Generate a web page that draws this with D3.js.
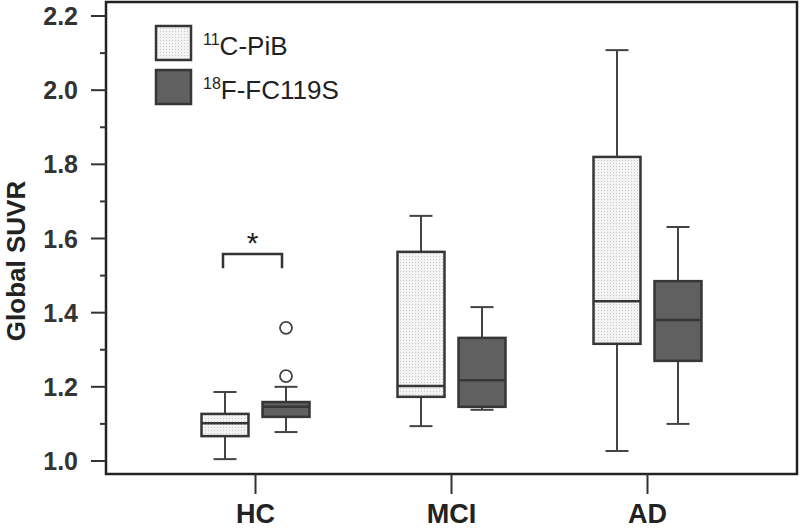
<!DOCTYPE html>
<html>
<head>
<meta charset="utf-8">
<script src="https://cdn.jsdelivr.net/npm/d3@7"></script>
<style>
  html, body { margin: 0; padding: 0; background: #fff; }
  svg { display: block; font-family: "Liberation Sans", Arial, Helvetica, sans-serif; }
</style>
</head>
<body>
<svg id="chart" width="800" height="529"></svg>
<script>
// ---- data ----
const categories = ["HC", "MCI", "AD"];
const seriesNames = ["11C-PiB", "18F-FC119S"];
const seriesSup = ["11", "18"];
const seriesMain = ["C-PiB", "F-FC119S"];

// 11C-PiB box statistics per category
const pibLow    = [1.005, 1.094, 1.027];
const pibQ1     = [1.067, 1.173, 1.316];
const pibMedian = [1.102, 1.202, 1.431];
const pibQ3     = [1.127, 1.564, 1.820];
const pibHigh   = [1.186, 1.661, 2.108];

// 18F-FC119S box statistics per category
const fcLow    = [1.078, 1.138, 1.100];
const fcQ1     = [1.119, 1.146, 1.270];
const fcMedian = [1.146, 1.218, 1.380];
const fcQ3     = [1.159, 1.332, 1.485];
const fcHigh   = [1.200, 1.415, 1.631];

// outliers
const outlierCats   = ["HC", "HC"];
const outlierSeries = ["18F-FC119S", "18F-FC119S"];
const outlierValues = [1.229, 1.359];

// significance bracket (HC)
const sigCategory = "HC";
const sigBracketTop = 1.558;
const sigBracketLeg = 1.520;
const sigStarValue = 1.609;
const sigLabel = "*";

const majorTicks = [1.0, 1.2, 1.4, 1.6, 1.8, 2.0, 2.2];
const minorTicks = [1.1, 1.3, 1.5, 1.7, 1.9, 2.1];
const yTitle = "Global SUVR";

(function () {
const svg = d3.select("#chart");
const mLeft = 106, mRight = 797, mTop = 2, mBottom = 474;

const y = d3.scaleLinear().domain([0.9649, 2.2378]).range([mBottom, mTop]);
const x = d3.scalePoint().domain(categories).range([mLeft, mRight]).padding(0.7628);
const xs = d3.scalePoint().domain(seriesNames).range([-30.5, 30.5]);
const boxW = 47, capW = 23;

const defs = svg.append("defs");
const pat = defs.append("pattern").attr("id", "dots")
  .attr("patternUnits", "userSpaceOnUse").attr("width", 3).attr("height", 3);
pat.append("rect").attr("width", 3).attr("height", 3).attr("fill", "#f3f3f3");
pat.append("rect").attr("x", 1).attr("y", 1).attr("width", 1).attr("height", 1).attr("fill", "#c9c9c9");

const fills = {"11C-PiB": "url(#dots)", "18F-FC119S": "#606060"};
const stroke = "#363636";

const boxes = [];
categories.forEach((c, i) => {
  boxes.push({cat: c, s: "11C-PiB", low: pibLow[i], q1: pibQ1[i], med: pibMedian[i], q3: pibQ3[i], high: pibHigh[i]});
  boxes.push({cat: c, s: "18F-FC119S", low: fcLow[i], q1: fcQ1[i], med: fcMedian[i], q3: fcQ3[i], high: fcHigh[i]});
});

const g = svg.append("g");
const bg = g.selectAll("g.box").data(boxes).join("g").attr("class", "box");
const cx = d => x(d.cat) + xs(d.s);

bg.append("line").attr("x1", cx).attr("x2", cx).attr("y1", d => y(d.high)).attr("y2", d => y(d.q3))
  .attr("stroke", "#444").attr("stroke-width", 2);
bg.append("line").attr("x1", cx).attr("x2", cx).attr("y1", d => y(d.q1)).attr("y2", d => y(d.low))
  .attr("stroke", "#444").attr("stroke-width", 2);
bg.append("line").attr("x1", d => cx(d) - capW/2).attr("x2", d => cx(d) + capW/2)
  .attr("y1", d => y(d.high)).attr("y2", d => y(d.high)).attr("stroke", "#444").attr("stroke-width", 2);
bg.append("line").attr("x1", d => cx(d) - capW/2).attr("x2", d => cx(d) + capW/2)
  .attr("y1", d => y(d.low)).attr("y2", d => y(d.low)).attr("stroke", "#444").attr("stroke-width", 2);
bg.append("rect").attr("x", d => cx(d) - boxW/2).attr("width", boxW)
  .attr("y", d => y(d.q3)).attr("height", d => y(d.q1) - y(d.q3))
  .attr("fill", d => fills[d.s]).attr("stroke", stroke).attr("stroke-width", 2.5);
bg.append("line").attr("x1", d => cx(d) - boxW/2).attr("x2", d => cx(d) + boxW/2)
  .attr("y1", d => y(d.med)).attr("y2", d => y(d.med)).attr("stroke", stroke).attr("stroke-width", 2.5);

const outliers = outlierValues.map((v, i) => ({cat: outlierCats[i], s: outlierSeries[i], v}));
g.selectAll("circle.out").data(outliers).join("circle").attr("class", "out")
  .attr("cx", d => x(d.cat) + xs(d.s)).attr("cy", d => y(d.v)).attr("r", 6)
  .attr("fill", "#fff").attr("stroke", "#444").attr("stroke-width", 1.8);

const bx1 = x(sigCategory) + xs(seriesNames[0]) - 2;
const bx2 = x(sigCategory) + xs(seriesNames[1]) - 4;
g.append("path")
  .attr("d", `M${bx1},${y(sigBracketLeg)}V${y(sigBracketTop)}H${bx2}V${y(sigBracketLeg)}`)
  .attr("fill", "none").attr("stroke", "#333").attr("stroke-width", 2.5);
const starSize = 30;
g.append("text").attr("x", (bx1 + bx2) / 2).attr("y", y(sigStarValue) + 0.58 * starSize)
  .attr("text-anchor", "middle").attr("font-size", starSize).attr("fill", "#222").text(sigLabel);

svg.append("rect").attr("x", mLeft).attr("y", mTop).attr("width", mRight - mLeft).attr("height", mBottom - mTop)
  .attr("fill", "none").attr("stroke", "#222").attr("stroke-width", 2.5);

const yAxis = svg.append("g").attr("transform", `translate(${mLeft},0)`);
yAxis.selectAll("line.major").data(majorTicks).join("line").attr("class", "major")
  .attr("x1", -15).attr("x2", 0).attr("y1", d => y(d)).attr("y2", d => y(d))
  .attr("stroke", "#333").attr("stroke-width", 2);
yAxis.selectAll("line.minor").data(minorTicks).join("line").attr("class", "minor")
  .attr("x1", -6).attr("x2", 0).attr("y1", d => y(d)).attr("y2", d => y(d))
  .attr("stroke", "#333").attr("stroke-width", 2);
yAxis.selectAll("text").data(majorTicks).join("text")
  .attr("x", -28).attr("y", d => y(d)).attr("dy", "0.36em")
  .attr("text-anchor", "end").attr("font-size", 25).attr("font-weight", "bold").attr("fill", "#333")
  .text(d => d3.format(".1f")(d));

const xAxis = svg.append("g");
xAxis.selectAll("line").data(categories).join("line")
  .attr("x1", d => x(d)).attr("x2", d => x(d)).attr("y1", mBottom).attr("y2", mBottom + 20)
  .attr("stroke", "#333").attr("stroke-width", 2);
xAxis.selectAll("text").data(categories).join("text")
  .attr("x", d => x(d)).attr("y", 523).attr("text-anchor", "middle")
  .attr("font-size", 27).attr("font-weight", "bold").attr("fill", "#222").text(d => d);

svg.append("text").attr("transform", `translate(25,261) rotate(-90)`)
  .attr("text-anchor", "middle").attr("font-size", 26).attr("font-weight", "bold").attr("fill", "#222")
  .text(yTitle);

const leg = svg.append("g");
const legY = [26, 70];
seriesNames.forEach((s, i) => {
  leg.append("rect").attr("x", 156).attr("y", legY[i]).attr("width", 35).attr("height", 34)
    .attr("fill", fills[s]).attr("stroke", stroke).attr("stroke-width", 2.5);
  const t = leg.append("text").attr("x", 203).attr("y", legY[i] + 29)
    .attr("font-size", 26).attr("fill", "#222");
  t.append("tspan").attr("font-size", 16).attr("dy", -10).text(seriesSup[i]);
  t.append("tspan").attr("dy", 10).text(seriesMain[i]);
});
})();
</script>
</body>
</html>
